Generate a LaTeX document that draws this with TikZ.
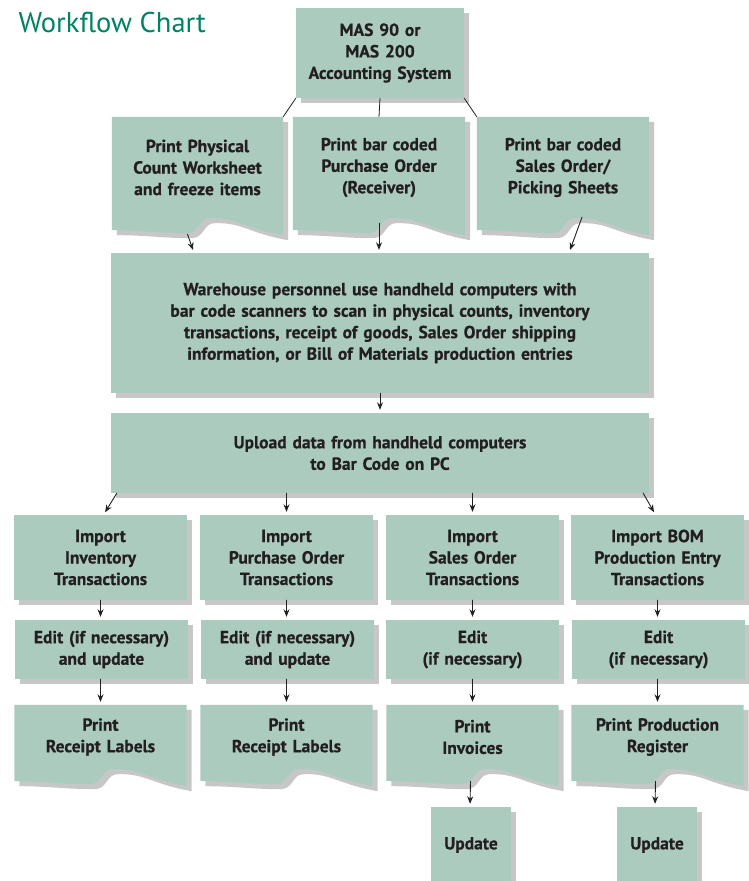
\documentclass[tikz,border=0pt]{standalone}
\usepackage{fontspec}
\setmainfont{PT Sans}[BoldFeatures={FakeBold=0.6}]
\usepackage{xcolor}
\usetikzlibrary{arrows.meta,calc,shadows,backgrounds}
\definecolor{boxfill}{RGB}{171,203,191}
\definecolor{inkdark}{RGB}{35,31,32}
\definecolor{titlegreen}{RGB}{0,130,100}
\newcommand{\docshape}[1]{%
  \fill[docfill] (#1.north west) -- (#1.north east) -- ([shift={(0,17)}]#1.south east)
    .. controls ([shift={(-40,10)}]#1.south east) and ([shift={(40,-1)}]#1.south) .. ([shift={(12,0)}]#1.south)
    .. controls ([shift={(1,0)}]#1.south) and ([shift={(2,14)}]#1.south) .. ([shift={(-10,15)}]#1.south)
    .. controls ([shift={(-40,15)}]#1.south) and ([shift={(30,12)}]#1.south west) .. ([shift={(0,12)}]#1.south west)
    -- cycle;}

\begin{document}
\begin{tikzpicture}[line cap=round,line join=round,x=1pt,y=-1pt,
  shade/.style={drop shadow={shadow xshift=5pt,shadow yshift=-5pt,fill=black,opacity=.22}},
  box/.style={fill=boxfill,shade,inner sep=0pt,align=center,text=inkdark,
    font=\fontsize{17.5}{21.5}\selectfont\bfseries},
  doc/.style={inner sep=0pt,align=center,text=inkdark,
    font=\fontsize{17.5}{21.5}\selectfont\bfseries},
  docfill/.style={fill=boxfill,shade},
  link/.style={line width=0.8pt,draw=inkdark},
  arr/.style={line width=0.9pt,draw=inkdark,-{Stealth[length=7.5pt,width=6pt]},shorten >=3pt}]
    \useasboundingbox (0,0) rectangle (749,881);
    \node[anchor=base west,text=titlegreen,font=\fontsize{28.5}{32}\selectfont] (title) at (15,32) {Workflow Chart};

    \node[box,text width=168,minimum height=90] (mas) at (380,53) {MAS 90 or\\MAS 200\\Accounting System};

    \node[doc,text width=171,minimum height=101] (doc1) at (197.5,167.5) {Print Physical\\Count Worksheet\\and freeze items};
    \node[doc,text width=172,minimum height=101] (doc2) at (379,167.5) {Print bar coded\\Purchase Order\\(Receiver)};
    \node[doc,text width=172,minimum height=101] (doc3) at (563,167.5) {Print bar coded\\Sales Order/\\Picking Sheets};

    \node[box,text width=538,minimum height=140] (ware) at (380,323) {Warehouse personnel use handheld computers with\\bar code scanners to scan in physical counts, inventory\\transactions, receipt of goods, Sales Order shipping\\information, or Bill of Materials production entries};
    \node[box,text width=538,minimum height=80] (upload) at (380,453) {Upload data from handheld computers\\to Bar Code on PC};

    \node[box,text width=173,minimum height=85] (imp1) at (100.5,557.5) {Import\\Inventory\\Transactions};
    \node[box,text width=173,minimum height=85] (imp2) at (286.5,557.5) {Import\\Purchase Order\\Transactions};
    \node[box,text width=173,minimum height=85] (imp3) at (472.5,557.5) {Import\\Sales Order\\Transactions};
    \node[box,text width=173,minimum height=85] (imp4) at (657.5,557.5) {Import BOM\\Production Entry\\Transactions};

    \node[box,text width=173,minimum height=59] (edit1) at (101.5,649.5) {Edit (if necessary)\\and update};
    \node[box,text width=173,minimum height=59] (edit2) at (287.5,649.5) {Edit (if necessary)\\and update};
    \node[box,text width=173,minimum height=59] (edit3) at (472.5,649.5) {Edit\\(if necessary)};
    \node[box,text width=173,minimum height=59] (edit4) at (658.5,649.5) {Edit\\(if necessary)};

    \node[doc,text width=172,minimum height=64] (prn1) at (100.5,737) {Print\\Receipt Labels};
    \node[doc,text width=172,minimum height=64] (prn2) at (286.5,737) {Print\\Receipt Labels};
    \node[doc,text width=172,minimum height=64] (prn3) at (472.5,737) {Print\\Invoices};
    \node[doc,text width=172,minimum height=64] (prn4) at (657.5,737) {Print Production\\Register};

    \node[box,text width=80,minimum height=76] (upd3) at (471,845) {Update};
    \node[box,text width=80,minimum height=76] (upd4) at (657,845) {Update};

    \begin{scope}[on background layer]
        \docshape{doc1}
        \docshape{doc2}
        \docshape{doc3}
        \docshape{prn1}
        \docshape{prn2}
        \docshape{prn3}
        \docshape{prn4}
    \end{scope}

    \draw[link] (mas.south west) -- (doc1.north east);
    \draw[link] (mas.south) -- (doc2.north);
    \draw[link] (mas.south east) -- (doc3.north west);

    \draw[arr] ([shift={(-10,16)}]doc1.south) -- ([shift={(-186,0)}]ware.north);
    \draw[arr] ([shift={(0,5)}]doc2.south) -- (doc2.south |- ware.north);
    \draw[arr] ([shift={(19,-1)}]doc3.south) -- ([shift={(189,0)}]ware.north);
    \draw[arr] (ware.south) -- (upload.north);

    \draw[arr] ([shift={(6,0)}]upload.south west) -- ([shift={(3,0)}]imp1.north);
    \draw[arr] (imp2.north |- upload.south) -- (imp2.north);
    \draw[arr] (imp3.north |- upload.south) -- (imp3.north);
    \draw[arr] ([shift={(-6,0)}]upload.south east) -- ([shift={(-2,0)}]imp4.north);

    \draw[arr] (imp1.south) -- (imp1.south |- edit1.north);
    \draw[arr] (imp2.south) -- (imp2.south |- edit2.north);
    \draw[arr] (imp3.south) -- (imp3.south |- edit3.north);
    \draw[arr] (imp4.south) -- (imp4.south |- edit4.north);

    \draw[arr] (imp1.south |- edit1.south) -- (imp1.south |- prn1.north);
    \draw[arr] (imp2.south |- edit2.south) -- (imp2.south |- prn2.north);
    \draw[arr] (edit3.south) -- (prn3.north);
    \draw[arr] (imp4.south |- edit4.south) -- (imp4.south |- prn4.north);

    \draw[arr] ([shift={(-2,12)}]prn3.south) -- ([shift={(-1,0)}]upd3.north);
    \draw[arr] ([shift={(-2,12)}]prn4.south) -- ([shift={(-2,0)}]upd4.north);
\end{tikzpicture}
\end{document}
